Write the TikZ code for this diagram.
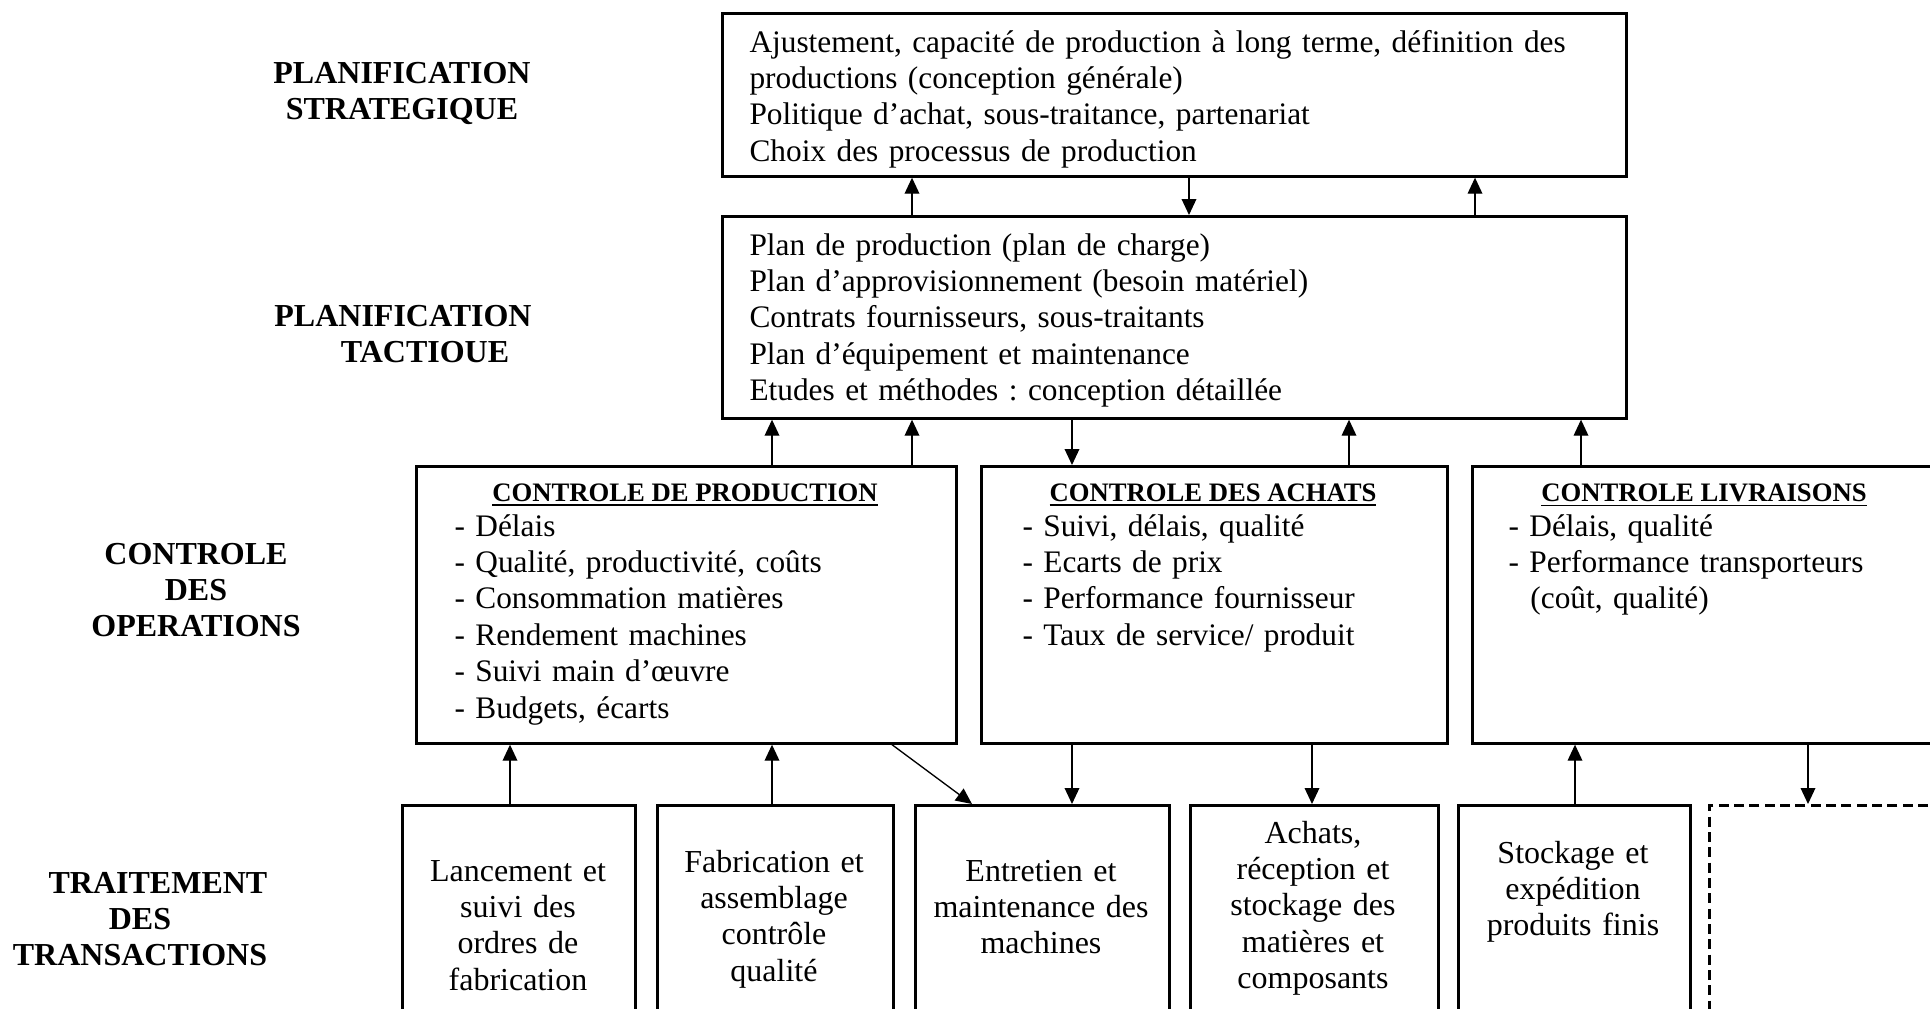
\documentclass[tikz,border=0pt]{standalone}
\usepackage{fontspec}
\setmainfont{Liberation Serif}
\usetikzlibrary{arrows.meta}
\frenchspacing

\begin{document}
\begin{tikzpicture}[x=0.375pt, y=-0.375pt,
    boite/.style={draw, line width=1pt, anchor=north west, inner sep=0pt},
    texte/.style={anchor=base west, inner sep=0pt, align=left, text width=330pt, font=\fontsize{11.75}{13.65}\selectfont},
    centre/.style={anchor=base, inner sep=0pt, align=center, text width=88pt, font=\fontsize{12}{13.65}\selectfont},
    niveau/.style={anchor=base, inner sep=0pt, align=center, text width=120pt, font=\bfseries\fontsize{12}{13.65}\selectfont},
    titre/.style={anchor=base, inner sep=0pt, font=\bfseries\fontsize{10}{12}\selectfont},
    fleche/.style={line width=0.5pt, -{Triangle[length=6pt, width=5.5pt]}}]
      \useasboundingbox (0,0) rectangle (1930,1008);
      \clip (0,0) rectangle (1930,1008);

      % niveaux
      \node[niveau] (n1) at (402,83) {PLANIFICATION\\STRATEGIQUE};
      \node[niveau] (n2) at (403,326) {PLANIFICATION\\\hspace*{16.5pt}TACTIOUE};
      \node[niveau] (n3) at (196,564) {CONTROLE\\DES\\OPERATIONS};
      \node[niveau] (n4) at (140,893) {\hspace*{13.5pt}TRAITEMENT\\DES\\TRANSACTIONS};

      % boites
      \node[boite, minimum width=339pt, minimum height=61.125pt] (strat) at (721,12) {};
      \node[boite, minimum width=339pt, minimum height=75.75pt] (tact) at (721,215) {};
      \node[boite, minimum width=202.5pt, minimum height=103.875pt] (cprod) at (415,465) {};
      \node[boite, minimum width=174.75pt, minimum height=103.875pt] (cachat) at (980,465) {};
      \node[boite, minimum width=174.75pt, minimum height=103.875pt] (cliv) at (1471,465) {};
      \node[boite, minimum width=87.375pt, minimum height=97.5pt] (b1) at (401,804) {};
      \node[boite, minimum width=88.5pt, minimum height=97.5pt] (b2) at (656,804) {};
      \node[boite, minimum width=95.25pt, minimum height=97.5pt] (b3) at (914,804) {};
      \node[boite, minimum width=93pt, minimum height=97.5pt] (b4) at (1189,804) {};
      \node[boite, minimum width=87pt, minimum height=97.5pt] (b5) at (1457,804) {};
      \node[boite, dash pattern=on 3.75pt off 2pt, minimum width=90pt, minimum height=97.5pt] (b6) at (1708,804) {};

      % textes
      \node[texte] (t1) at (749,52) {Ajustement, capacité de production à long terme, définition des\\productions (conception générale)\\Politique d’achat, sous-traitance, partenariat\\Choix des processus de production};
      \node[texte] (t2) at (749,255) {Plan de production (plan de charge)\\Plan d’approvisionnement (besoin matériel)\\Contrats fournisseurs, sous-traitants\\Plan d’équipement et maintenance\\Etudes et méthodes : conception détaillée};

      \node[titre] (h1) at (685,501) {\underline{CONTROLE DE PRODUCTION}};
      \node[titre] (h2) at (1213,501) {\underline{CONTROLE DES ACHATS}};
      \node[titre] (h3) at (1704,501) {\underline{CONTROLE LIVRAISONS}};
      \node[texte, text width=190pt] (t3) at (454,536) {- Délais\\- Qualité, productivité, coûts\\- Consommation matières\\- Rendement machines\\- Suivi main d’œuvre\\- Budgets, écarts};
      \node[texte, text width=160pt] (t4) at (1022,536) {- Suivi, délais, qualité\\- Ecarts de prix\\- Performance fournisseur\\- Taux de service/ produit};
      \node[texte, text width=160pt] (t5) at (1508,536) {- Délais, qualité\\- Performance transporteurs\\\hspace*{8.2pt}(coût, qualité)};

      \node[centre] (t6) at (518,881) {Lancement et\\suivi des\\ordres de\\fabrication};
      \node[centre] (t7) at (774,872) {Fabrication et\\assemblage\\contrôle\\qualité};
      \node[centre] (t8) at (1041,881) {Entretien et\\maintenance des\\machines};
      \node[centre] (t9) at (1313,843) {Achats,\\réception et\\stockage des\\matières et\\composants};
      \node[centre] (t10) at (1573,863) {Stockage et\\expédition\\produits finis};

      % fleches
      \path [fleche] (tact.north -| 912,0) edge (strat.south -| 912,0);
      \path [fleche] (strat.south -| 1189,0) edge (tact.north -| 1189,0);
      \path [fleche] (tact.north -| 1475,0) edge (strat.south -| 1475,0);
      \path [fleche] (cprod.north -| 772,0) edge (tact.south -| 772,0);
      \path [fleche] (cprod.north -| 912,0) edge (tact.south -| 912,0);
      \path [fleche] (tact.south -| 1072,0) edge (cachat.north -| 1072,0);
      \path [fleche] (cachat.north -| 1349,0) edge (tact.south -| 1349,0);
      \path [fleche] (cliv.north -| 1581,0) edge (tact.south -| 1581,0);
      \path [fleche] (b1.north -| 510,0) edge (cprod.south -| 510,0);
      \path [fleche] (b2.north -| 772,0) edge (cprod.south -| 772,0);
      \path [fleche] (cprod.south -| 892,0) edge (b3.north -| 972,0);
      \path [fleche] (cachat.south -| 1072,0) edge (b3.north -| 1072,0);
      \path [fleche] (cachat.south -| 1312,0) edge (b4.north -| 1312,0);
      \path [fleche] (b5.north -| 1575,0) edge (cliv.south -| 1575,0);
      \path [fleche] (cliv.south -| 1808,0) edge (b6.north -| 1808,0);
    \end{tikzpicture}
\end{document}
